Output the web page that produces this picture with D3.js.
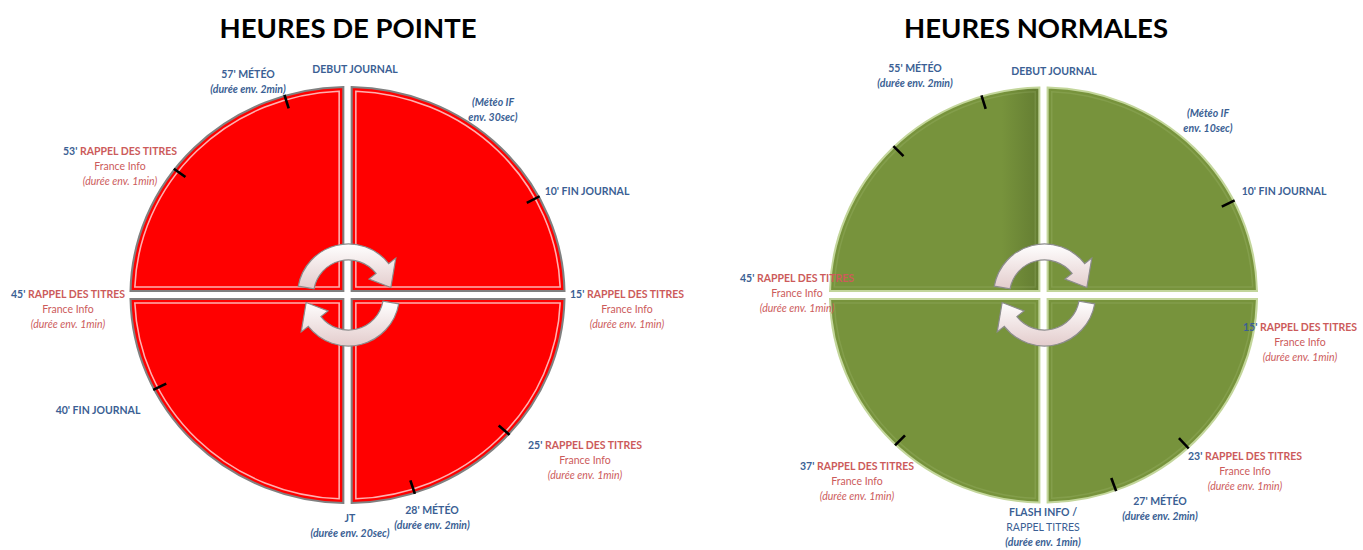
<!DOCTYPE html>
<html>
<head>
<meta charset="utf-8">
<script src="https://cdn.jsdelivr.net/npm/d3@7"></script>
<style>
  body { margin: 0; background: #fff; }
  svg { display: block; }
  text { font-family: Lato, "Open Sans", sans-serif; }
</style>
</head>
<body>
<svg id="chart" width="1363" height="550"></svg>
<script>
// --- data -------------------------------------------------------------
const titles = ["HEURES DE POINTE", "HEURES NORMALES"];
const quarters = [15, 15, 15, 15]; // minutes per quadrant of the hour

// tick marks on the rim, in minutes past the hour
const ticksPointe = [57.2, 51.2, 10.3, 40.5, 22, 27];
const ticksNormales = [57.2, 52.6, 10.5, 22.9, 26.7, 37.3];

const labelsPointe = [
  ["57' MÉTÉO", "(durée env. 2min)"],
  ["DEBUT JOURNAL"],
  ["(Météo IF", "env. 30sec)"],
  ["10' FIN JOURNAL"],
  ["53' RAPPEL DES TITRES", "France Info", "(durée env.  1min)"],
  ["45' RAPPEL DES TITRES", "France Info", "(durée env. 1min)"],
  ["40' FIN JOURNAL"],
  ["15' RAPPEL DES TITRES", "France Info", "(durée env. 1min)"],
  ["25' RAPPEL DES TITRES", "France Info", "(durée env. 1min)"],
  ["28' MÉTÉO", "(durée env. 2min)"],
  ["JT", "(durée env. 20sec)"]
];

const labelsNormales = [
  ["55' MÉTÉO", "(durée env. 2min)"],
  ["DEBUT JOURNAL"],
  ["(Météo IF", "env. 10sec)"],
  ["10' FIN JOURNAL"],
  ["45' RAPPEL DES TITRES", "France Info", "(durée env.  1min)"],
  ["15' RAPPEL DES TITRES", "France Info", "(durée env.  1min)"],
  ["23' RAPPEL DES TITRES", "France Info", "(durée env.  1min)"],
  ["27' MÉTÉO", "(durée env.  2min)"],
  ["37' RAPPEL DES TITRES", "France Info", "(durée env.  1min)"],
  ["FLASH INFO /", "RAPPEL TITRES", "(durée env. 1min)"]
];

// --- layout -----------------------------------------------------------
const BLUE = "#3b5f94";
const RED = "#cc5b5b";

const charts = [
  {
    title: titles[0], ticks: ticksPointe, labels: labelsPointe,
    cx: 347.5, cy: 295, rx: 217, ry: 208,
    fill: "#ff0000", rim: "#808080", hi: "rgba(255,185,185,0.95)",
    titleX: 348,
    labelPos: [[248, 78], [355, 73], [493, 106], [587, 195], [120, 155], [68, 298],
               [98, 414], [627, 298], [585, 449], [432, 514], [350, 522]]
  },
  {
    title: titles[1], ticks: ticksNormales, labels: labelsNormales,
    cx: 1043.5, cy: 295, rx: 213.5, ry: 207.5,
    fill: "#77933c", rim: "#c3d69b", hi: "rgba(200,220,160,0.15)",
    titleX: 1036,
    labelPos: [[915, 72], [1054, 75], [1208, 117], [1284, 195], [797, 282], [1300, 331],
               [1245, 460], [1160, 505], [857, 470], [1043, 516]]
  }
];

const svg = d3.select("#chart");
const angle = d3.scaleLinear().domain([0, 60]).range([0, 2 * Math.PI]);
const pie = d3.pie().sort(null).value(d => d);

const defs = svg.append("defs");
const grad = defs.append("linearGradient").attr("id", "arrowGrad")
  .attr("x1", 0).attr("y1", 0).attr("x2", 0).attr("y2", 1);
grad.append("stop").attr("offset", "0%").attr("stop-color", "#ffffff");
grad.append("stop").attr("offset", "100%").attr("stop-color", "#e3cccc");

// darker fold next to the vertical gap of the green dial
const shade = defs.append("linearGradient").attr("id", "greenShade")
  .attr("x1", 0).attr("y1", 0).attr("x2", 1).attr("y2", 0);
shade.append("stop").attr("offset", "0%").attr("stop-color", "#77933c");
shade.append("stop").attr("offset", "82%").attr("stop-color", "#77933c");
shade.append("stop").attr("offset", "100%").attr("stop-color", "#647d32");

function pt(r, a) {
  return [r * Math.sin(a), -r * Math.cos(a)];
}

// quarter disc with straight, constant-width gaps along its two radii
function quadPath(d, r, g) {
  const a0 = d.startAngle, a1 = d.endAngle;
  const n0 = [Math.cos(a0), Math.sin(a0)];
  const n1 = [-Math.cos(a1), -Math.sin(a1)];
  const s = Math.sqrt(r * r - g * g);
  const u0 = pt(1, a0), u1 = pt(1, a1);
  const p = d3.path();
  p.moveTo(g * (n0[0] + n1[0]), g * (n0[1] + n1[1]));
  p.lineTo(g * n0[0] + s * u0[0], g * n0[1] + s * u0[1]);
  const b0 = Math.atan2(g * n0[1] + s * u0[1], g * n0[0] + s * u0[0]);
  const b1 = Math.atan2(g * n1[1] + s * u1[1], g * n1[0] + s * u1[0]);
  p.arc(0, 0, r, b0, b1, false);
  p.closePath();
  return p.toString();
}

// curved band ending in an arrow head, angles in clock radians
function arrowPath(rIn, rOut, a0, a1, a2, h) {
  const rMid = (rIn + rOut) / 2;
  const p = d3.path();
  p.moveTo(...pt(rOut, a0));
  p.arc(0, 0, rOut, a0 - Math.PI / 2, a1 - Math.PI / 2, false);
  p.lineTo(...pt(rOut + h, a1));
  p.lineTo(...pt(rMid, a2));
  p.lineTo(...pt(rIn - h, a1));
  p.lineTo(...pt(rIn, a1));
  p.arc(0, 0, rIn, a1 - Math.PI / 2, a0 - Math.PI / 2, true);
  p.closePath();
  return p.toString();
}

const deg = Math.PI / 180;

charts.forEach((c, ci) => {
  const r = c.ry;
  const sx = c.rx / c.ry;

  svg.append("text")
    .attr("x", c.titleX).attr("y", 38)
    .attr("text-anchor", "middle")
    .attr("font-size", 27.5).attr("font-weight", 700)
    .attr("fill", "#000")
    .text(c.title);

  const g = svg.append("g")
    .attr("transform", `translate(${c.cx},${c.cy}) scale(${sx},1)`);

  const slices = pie(quarters);

  g.selectAll(".q")
    .data(slices)
    .join("path")
    .attr("class", "q")
    .attr("d", d => quadPath(d, r, 4))
    .attr("fill", (d, i) => (ci === 1 && i === 3) ? "url(#greenShade)" : c.fill)
    .attr("stroke", c.rim)
    .attr("stroke-width", 2);

  g.selectAll(".qh")
    .data(slices)
    .join("path")
    .attr("class", "qh")
    .attr("d", d => quadPath(d, r - 4, 8))
    .attr("fill", "none")
    .attr("stroke", c.hi)
    .attr("stroke-width", 1.5);

  // rim ticks
  g.selectAll(".tick")
    .data(c.ticks)
    .join("line")
    .attr("class", "tick")
    .attr("x1", d => pt(r - 13, angle(d))[0])
    .attr("y1", d => pt(r - 13, angle(d))[1])
    .attr("x2", d => pt(r + 1, angle(d))[0])
    .attr("y2", d => pt(r + 1, angle(d))[1])
    .attr("stroke", "#000")
    .attr("stroke-width", 2.5);

  // circular arrows in the middle
  const arrows = [
    [-80 * deg, 52 * deg, 80 * deg],
    [100 * deg, 232 * deg, 260 * deg]
  ];
  const ag = svg.append("g").attr("transform", `translate(${c.cx + 1},${c.cy})`);
  ag.selectAll("path")
    .data(arrows)
    .join("path")
    .attr("d", d => arrowPath(35, 51, d[0], d[1], d[2], 9))
    .attr("fill", "url(#arrowGrad)")
    .attr("stroke", "#8c8c8c")
    .attr("stroke-width", 1.2);

  // labels
  c.labels.forEach((lines, i) => {
    const [x, y] = c.labelPos[i];
    const isRappel = lines[0].includes("RAPPEL DES TITRES");
    const t = svg.append("text")
      .attr("x", x).attr("y", y)
      .attr("text-anchor", "middle")
      .attr("font-size", 10.5);
    lines.forEach((line, j) => {
      const italic = line.startsWith("(") || line.startsWith("env.");
      const ts = t.append("tspan")
        .attr("x", x)
        .attr("dy", j === 0 ? 0 : 15)
        .attr("font-style", italic ? "italic" : "normal")
        .attr("font-weight", j === 0 || (!isRappel && italic) ? 700 : 400)
        .attr("fill", isRappel ? RED : BLUE);
      const m = line.match(/^(\d+')(.*)$/);
      if (m && isRappel) {
        ts.append("tspan").attr("fill", BLUE).text(m[1]);
        ts.append("tspan").text(m[2]);
      } else {
        ts.text(line);
      }
    });
  });
});
</script>
</body>
</html>
